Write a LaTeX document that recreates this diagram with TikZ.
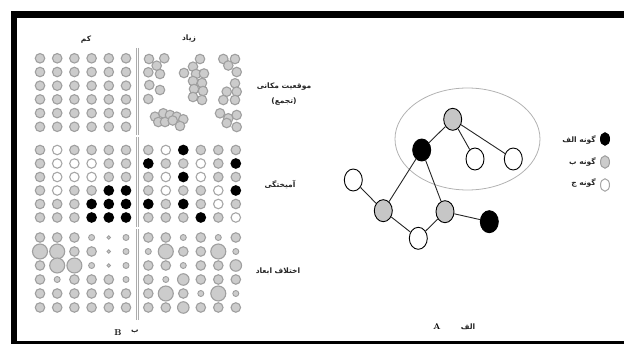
\documentclass[tikz,border=0pt]{standalone}
\usepackage{fontspec}
\usetikzlibrary{shapes.geometric}
\newfontfamily\arabicfont[Script=Arabic]{DejaVu Sans}
\newfontfamily\latinsans{DejaVu Sans}
\TeXXeTstate=1
\begin{document}
\begin{tikzpicture}[x=1pt,y=-1pt,
  gridline/.style={draw=gray!65, line width=0.6pt, double=white, double distance=1.4pt},
  dotbase/.style={circle, inner sep=0pt, minimum size=9.5pt, line width=1.1pt},
  dotg/.style={dotbase, draw=gray!75, fill=gray!40},
  dotw/.style={dotbase, draw=gray!70, fill=white},
  dotb/.style={dotbase, draw=black, fill=black},
  szt/.style={dotg, minimum size=3.5pt, line width=0.8pt},
  szs/.style={dotg, minimum size=6pt, line width=0.9pt},
  szm/.style={dotg, minimum size=9.5pt},
  szM/.style={dotg, minimum size=11.5pt},
  szL/.style={dotg, minimum size=15pt},
  gnode/.style={ellipse, draw=black, line width=0.9pt, minimum width=18pt, minimum height=22pt, inner sep=0pt},
  ngray/.style={gnode, fill=gray!45},
  nblack/.style={gnode, fill=black},
  nwhite/.style={gnode, fill=white},
  edge/.style={draw=black!85, line width=0.9pt},
  lab/.style={font=\arabicfont\bfseries\fontsize{7.5}{9}\selectfont, inner sep=0pt, text=black!85},
  leg/.style={ellipse, inner sep=0pt, minimum width=9pt, minimum height=12.5pt, line width=1pt}
]
\useasboundingbox (0,0) rectangle (624,344);
% frame
\fill[black] (11,11) rectangle (624,18);
\fill[black] (11,11) rectangle (17,344);
\fill[black] (11,341) rectangle (624,344);

% grid
\draw[gridline] (28,48) rectangle (248,320);
\draw[gridline] (137.5,48) -- (137.5,320);
\draw[gridline] (28,136) -- (250,136);
\draw[gridline] (28,228) -- (250,228);

% column labels
\node[lab] (low) at (86,40) {کم};
\node[lab] (high) at (189,39) {زیاد};

% top-left: uniform
\foreach \j in {0,...,5}
  \foreach \i in {0,...,5}
    \node[dotg] (tl\i\j) at (40+17.2*\i, 58.3+13.7*\j) {};

% top-right: clustered
\foreach \p [count=\k] in {
  (149,59),(164.3,58.3),(156.7,65.7),(148.3,72.3),(160,74),(149.3,85),(160,90),(148.3,99),
  (200,59),(193,66.7),(184,73),(196,74),(204,73.5),(193,81),(202,83),(194,89),(203,91),(193,97),(202,100),
  (223.3,59),(235,59),(228.3,65.5),(236.7,72),(235,83.3),(226.7,91.7),(236.7,91.7),(223.3,100),(235,100),
  (155,116.7),(163.3,113.3),(170,115),(176.7,116.7),(183.3,119.3),(158.3,122),(165,122),(172.7,120.5),(180,126),
  (220,113.3),(228.3,118.3),(236.7,115),(226.7,123),(236.7,127)}
  \node[dotg] (tr\k) at \p {};

% middle-left: mixing low
\foreach \row [count=\j from 0] in {{g,w,g,g,g,g},{g,w,w,w,g,g},{g,w,w,w,g,g},{g,w,g,g,b,b},{g,g,g,b,b,b},{g,g,g,b,b,b}}
  \foreach \c [count=\i from 0] in \row
    \node[dot\c] (ml\i\j) at (40+17.2*\i, 150+13.5*\j) {};

% middle-right: mixing high
\foreach \row [count=\j from 0] in {{g,w,b,g,g,g},{b,g,g,w,g,b},{g,w,b,w,g,g},{g,w,g,g,w,b},{b,g,b,g,w,g},{g,g,g,b,g,w}}
  \foreach \c [count=\i from 0] in \row
    \node[dot\c] (mr\i\j) at (148.3+17.5*\i, 150+13.5*\j) {};

% bottom-left: size difference low
\foreach \row [count=\j from 0] in {{m,m,m,s,t,s},{L,L,m,m,t,s},{m,L,L,s,t,s},{m,s,m,m,m,s},{m,m,m,m,m,m},{m,m,m,m,m,m}}
  \foreach \c [count=\i from 0] in \row
    \node[sz\c] (bl\i\j) at (40+17.2*\i, 237.5+14*\j) {};

% bottom-right: size difference high
\foreach \row [count=\j from 0] in {{m,m,s,m,s,m},{s,L,m,m,L,s},{m,m,s,m,m,M},{m,s,M,m,m,m},{m,L,m,s,L,s},{m,m,M,m,m,m}}
  \foreach \c [count=\i from 0] in \row
    \node[sz\c] (br\i\j) at (148.3+17.5*\i, 237.5+14*\j) {};

% row labels
\node[lab] (r1a) at (284,86.5) {\beginR موقعیت مکانی\endR};
\node[lab] (r1b) at (284,101.5) {{\latinsans(}تجمع{\latinsans)}};
\node[lab] (r2) at (280,185) {آمیختگی};
\node[lab] (r3) at (278,271) {\beginR اختلاف ابعاد\endR};

% panel B label
\node[font=\bfseries\fontsize{8.5}{9}\selectfont, inner sep=0pt] (Blab) at (118,333) {B};
\node[lab] (Bfa) at (135,332) {ب};

% graph
\draw[gray!60, line width=0.8pt] (467.5,139) ellipse [x radius=72.5, y radius=51];
\node[ngray] (g1) at (452.7,119.3) {};
\node[nblack] (b1) at (421.7,150) {};
\node[nwhite] (w1) at (475,159) {};
\node[nwhite] (w2) at (513.3,159) {};
\node[nwhite] (w3) at (353.3,180) {};
\node[ngray] (g2) at (383.3,210.7) {};
\node[ngray] (g3) at (445,211.7) {};
\node[nwhite] (w4) at (418.3,238.3) {};
\node[nblack] (b2) at (489.3,221.7) {};
\draw[edge] (g1) -- (b1);
\draw[edge] (g1) -- (w1);
\draw[edge] (g1) -- (w2);
\draw[edge] (b1) -- (g2);
\draw[edge] (b1) -- (g3);
\draw[edge] (w3) -- (g2);
\draw[edge] (g2) -- (w4);
\draw[edge] (w4) -- (g3);
\draw[edge] (g3) -- (b2);

% legend
\node[leg, draw=black, fill=black] (lb) at (605,139) {};
\node[leg, draw=gray!75, fill=gray!40] (lg) at (605,162) {};
\node[leg, draw=gray!70, fill=white] (lw) at (605,185) {};
\node[lab, anchor=east] (tlb) at (596,140) {\beginR گونه الف\endR};
\node[lab, anchor=east] (tlg) at (596,162) {\beginR گونه ب\endR};
\node[lab, anchor=east] (tlw) at (596,183) {\beginR گونه ج\endR};

% panel A label
\node[font=\bfseries\fontsize{8.5}{9}\selectfont, inner sep=0pt] (Alab) at (437,327) {A};
\node[lab] (Afa) at (468,326.5) {الف};
\end{tikzpicture}
\end{document}
